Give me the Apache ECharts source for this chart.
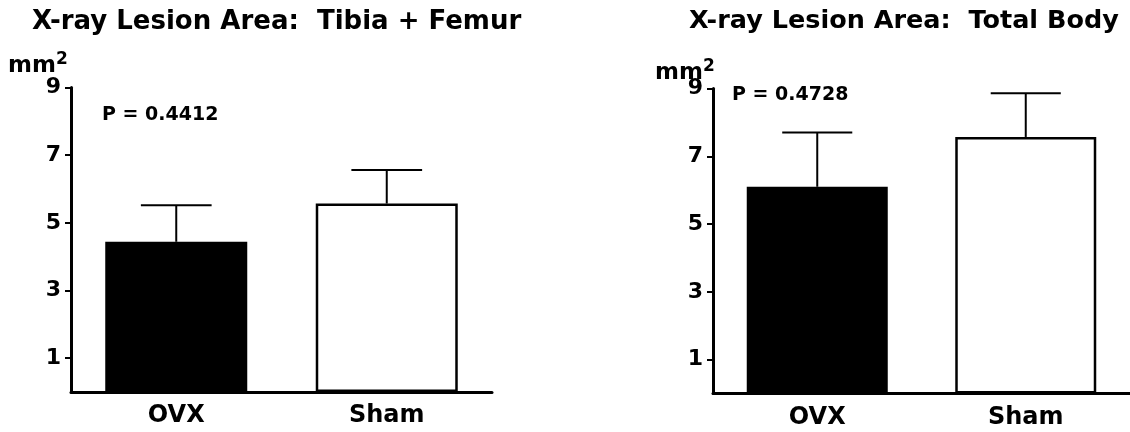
<!DOCTYPE html>
<html>
<head>
<meta charset="utf-8">
<script src="https://cdn.jsdelivr.net/npm/echarts@6/dist/echarts.min.js"></script>
<style>
  html, body { margin: 0; padding: 0; background: #fff; }
  #main { width: 1130px; height: 432px; }
</style>
</head>
<body>
<div id="main"></div>
<script>
// groups
var categories = ["OVX", "Sham"];
// X-ray lesion area (mm2), mean and upper error
var tibiaMean = [4.44, 5.57];
var tibiaErr = [1.08, 0.99];
var totalMean = [6.10, 7.57];
var totalErr = [1.60, 1.29];
var yTicks = [1, 3, 5, 7, 9];
var pValues = ["P = 0.4412", "P = 0.4728"];

var FONT = "DejaVu Sans";
var chart = echarts.init(document.getElementById("main"));

function barData(means) {
  return means.map(function (v, i) {
    return {
      value: v,
      itemStyle: {
        color: i === 0 ? "#000" : "#fff",
        borderColor: "#000",
        borderWidth: 2.5
      }
    };
  });
}

function errData(means, errs) {
  return means.map(function (v, i) {
    return [i, v, v + errs[i]];
  });
}

// upper error bar with cap
function renderErr(params, api) {
  var lo = api.coord([api.value(0), api.value(1)]);
  var hi = api.coord([api.value(0), api.value(2)]);
  var half = api.size([1, 0])[0] * 0.168;
  var st = { stroke: "#000", lineWidth: 2 };
  return {
    type: "group",
    children: [
      { type: "line", shape: { x1: lo[0], y1: lo[1], x2: hi[0], y2: hi[1] }, style: st },
      { type: "line", shape: { x1: hi[0] - half, y1: hi[1], x2: hi[0] + half, y2: hi[1] }, style: st }
    ]
  };
}

function xAxis(idx) {
  return {
    type: "category",
    gridIndex: idx,
    data: categories,
    axisLine: { lineStyle: { color: "#000", width: 3 } },
    axisTick: { alignWithLabel: true, length: 6, lineStyle: { color: "#000", width: 2 } },
    axisLabel: { color: "#000", fontFamily: FONT, fontWeight: "bold", fontSize: 24, margin: 12 }
  };
}

function yAxis(idx) {
  return {
    type: "value",
    gridIndex: idx,
    min: 0,
    max: 9,
    splitLine: { show: false },
    axisLine: { show: true, lineStyle: { color: "#000", width: 3 } },
    axisTick: { show: true, length: 6, customValues: yTicks, lineStyle: { color: "#000", width: 2 } },
    axisLabel: { color: "#000", fontFamily: FONT, fontWeight: "bold", fontSize: 22, margin: 10, customValues: yTicks }
  };
}

function txt(x, y, text, size) {
  return {
    type: "text",
    left: x,
    top: y,
    style: {
      text: text,
      fill: "#000",
      font: "bold " + size + "px '" + FONT + "'"
    }
  };
}

function unitLabel(x, y) {
  return {
    type: "text",
    left: x,
    top: y,
    style: {
      text: "mm{s|2}",
      fill: "#000",
      font: "bold 23px '" + FONT + "'",
      rich: { s: { fontSize: 17, fontWeight: "bold", fontFamily: FONT, verticalAlign: "top", padding: [0, 0, 14, 0] } }
    }
  };
}

chart.setOption({
  backgroundColor: "#fff",
  animation: false,
  grid: [
    { left: 71, top: 87.5, width: 421, height: 304.5 },
    { left: 713, top: 88.5, width: 417, height: 305 }
  ],
  xAxis: [xAxis(0), xAxis(1)],
  yAxis: [yAxis(0), yAxis(1)],
  graphic: [
    txt(32, 9, "X-ray Lesion Area:  Tibia + Femur", 26),
    txt(689, 8, "X-ray Lesion Area:  Total Body", 25.5),
    unitLabel(8, 51),
    unitLabel(655, 58),
    txt(102, 106, pValues[0], 19),
    txt(732, 86, pValues[1], 19)
  ],
  series: [
    { type: "bar", xAxisIndex: 0, yAxisIndex: 0, barWidth: 142, data: barData(tibiaMean) },
    { type: "custom", xAxisIndex: 0, yAxisIndex: 0, renderItem: renderErr, data: errData(tibiaMean, tibiaErr), z: 3 },
    { type: "bar", xAxisIndex: 1, yAxisIndex: 1, barWidth: 141, data: barData(totalMean) },
    { type: "custom", xAxisIndex: 1, yAxisIndex: 1, renderItem: renderErr, data: errData(totalMean, totalErr), z: 3 }
  ]
});
window.onresize = function () { chart.resize(); };
</script>
</body>
</html>
